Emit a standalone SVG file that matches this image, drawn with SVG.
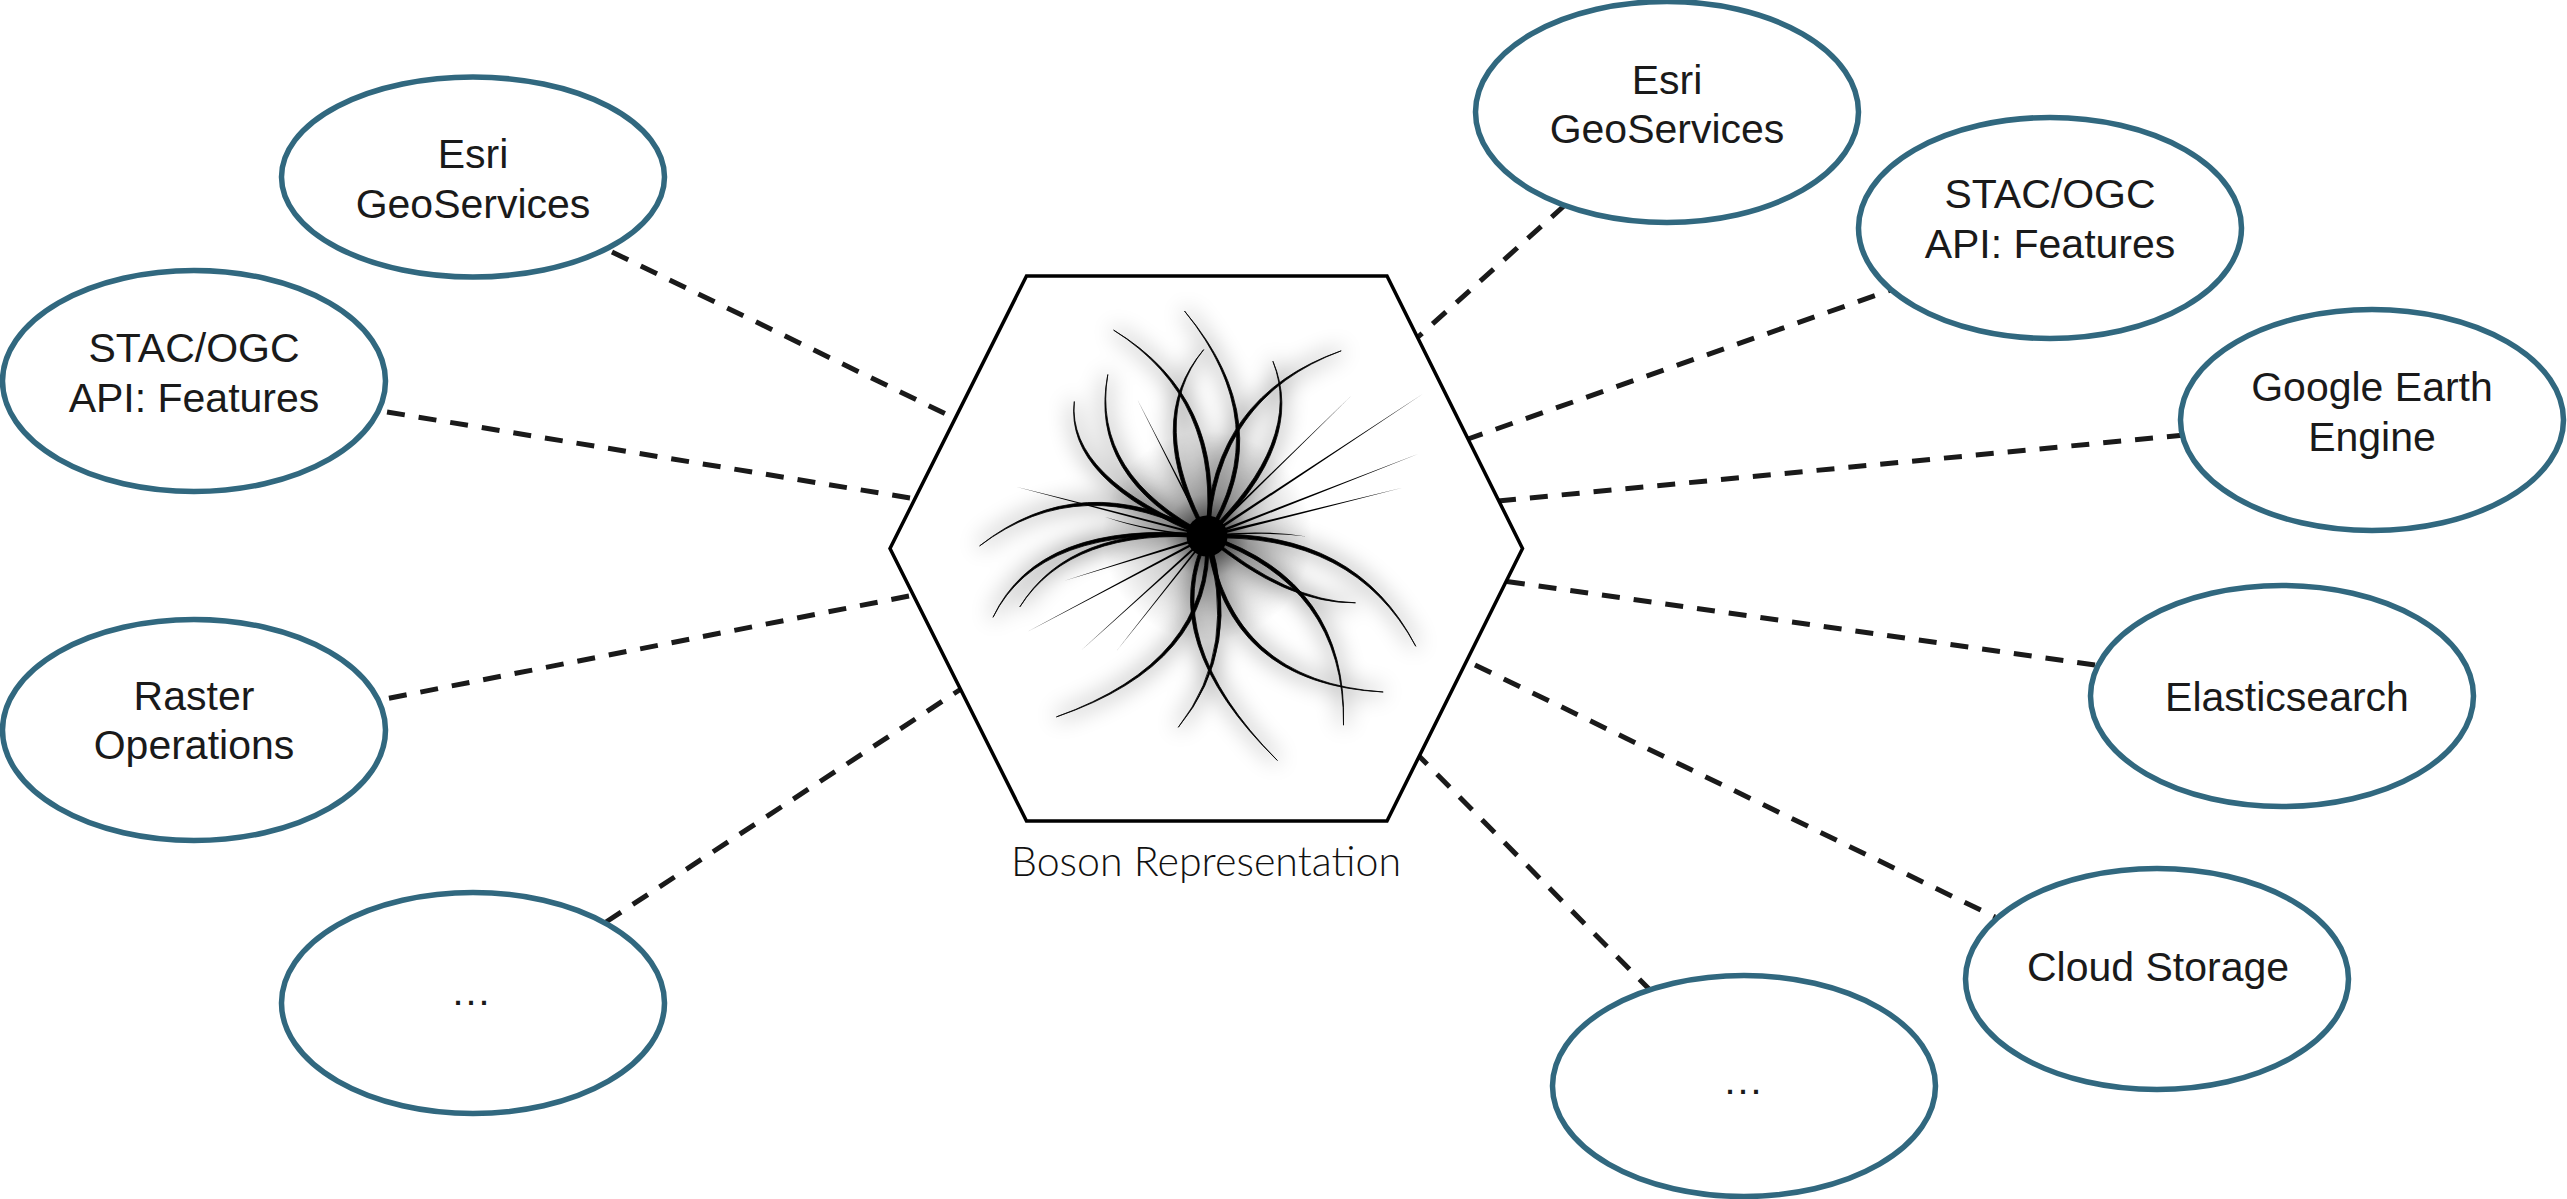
<svg xmlns="http://www.w3.org/2000/svg" width="2567" height="1199" viewBox="0 0 2567 1199">
<style>
text{font-family:"Liberation Sans",Arial,sans-serif;font-size:41px;fill:#1a1a1a;text-anchor:middle}
.n{fill:#fff;stroke:#31687f;stroke-width:5.5}
.c{stroke:#1a1a1a;stroke-width:5;stroke-dasharray:18 14;fill:none}
.hex{fill:#fff;stroke:#000;stroke-width:3.5;stroke-linejoin:miter}
text.cap{font-family:Lato,"Open Sans",sans-serif;font-weight:300;font-size:41px;fill:#111}
</style>
<defs>
<filter id="blur" x="-30%" y="-30%" width="160%" height="160%"><feGaussianBlur stdDeviation="11"/></filter>
<radialGradient id="glow"><stop offset="0" stop-color="#000" stop-opacity=".7"/><stop offset=".4" stop-color="#000" stop-opacity=".22"/><stop offset="1" stop-color="#000" stop-opacity="0"/></radialGradient>
<g id="curved">
<path d="M1209.3,536.1Q1280.7,424.8 1184.5,311Q1276.7,425.2 1205.3,536.5Z"/>
<path d="M1209.1,535.5Q1226.5,398.2 1113.6,330.1Q1222.9,399.8 1205.5,537.1Z"/>
<path d="M1209.3,536.3Q1146,422 1203.7,349.6Q1142,422 1205.3,536.3Z"/>
<path d="M1209,535.3Q1091.1,475 1107.8,374.5Q1087.7,477 1205.6,537.3Z"/>
<path d="M1208.7,534.9Q1067.2,478.1 1074.3,401.5Q1064.4,480.9 1205.9,537.7Z"/>
<path d="M1209.2,537Q1307.4,441.7 1272.9,361.2Q1303.6,440.3 1205.4,535.6Z"/>
<path d="M1208.9,537.5Q1215.1,398.2 1341.2,350.8Q1211.9,395.8 1205.7,535.1Z"/>
<path d="M1206.4,538.1Q1354.1,532.8 1415.8,646.3Q1355.9,529.2 1208.2,534.5Z"/>
<path d="M1206.7,537.7Q1286.2,604.2 1355.5,602.8Q1287.4,601.4 1207.9,534.9Z"/>
<path d="M1205.7,537.5Q1345,584.2 1343.5,725.2Q1348.2,581.8 1208.9,535.1Z"/>
<path d="M1206,537.8Q1226.7,684.5 1383.2,692Q1229.3,681.5 1208.6,534.8Z"/>
<path d="M1205.4,536.9Q1154.5,640.6 1277.4,760.5Q1158.3,639.4 1209.2,535.7Z"/>
<path d="M1205.3,536Q1239.7,648.1 1178.3,727.3Q1243.7,648.7 1209.3,536.6Z"/>
<path d="M1205.8,535Q1211.5,660.7 1056.4,716.9Q1214.5,663.3 1208.8,537.6Z"/>
<path d="M1206.6,534.4Q1038.8,519.1 993,617.3Q1040.2,522.9 1208,538.2Z"/>
<path d="M1206.8,534.9Q1070.2,524.6 1019.8,606.9Q1071.2,527.4 1207.8,537.7Z"/>
<path d="M1207.2,534.3Q1081.8,465 979.6,545.9Q1082,469 1207.4,538.3Z"/>
</g>
<g id="thin">
<path d="M1207.5,535.3Q1111.3,510 1015.3,486.6Q1110.7,512 1207,537.3Z"/>
<path d="M1207.3,535.5Q1150,531 1104.6,516.8Q1150,533 1207.3,537.1Z"/>
<path d="M1207.3,535.5Q1260,529 1306.4,536.4Q1260,531 1207.3,537.1Z"/>
<path d="M1208.4,535.8L1136.8,398.6L1206.2,536.8Z"/>
<path d="M1208.1,537.2L1351,396L1206.5,535.4Z"/>
<path d="M1208.1,537.5L1423.4,393.6L1206.5,535.1Z"/>
<path d="M1207.8,537.7L1419.3,453.4L1206.8,534.9Z"/>
<path d="M1207.7,537.8L1402.4,487.8L1206.9,534.8Z"/>
<path d="M1206.5,535.4L1081,650.5L1208.1,537.2Z"/>
<path d="M1206.5,535.7L1115.3,652.6L1208.1,536.9Z"/>
<path d="M1206.7,535.2L1026,632.6L1207.9,537.4Z"/>
<path d="M1206.9,534.9L1064.5,580.8L1207.7,537.7Z"/>
</g>
</defs>
<rect width="2567" height="1199" fill="#fff"/>
<g id="connectors">
<line class="c" x1="612" y1="252" x2="952" y2="417"/>
<line class="c" x1="910" y1="498" x2="375" y2="410"/>
<line class="c" x1="909" y1="596" x2="375" y2="701"/>
<line class="c" x1="606" y1="922" x2="961" y2="689"/>
<line class="c" x1="1565" y1="205" x2="1418" y2="337"/>
<line class="c" x1="1905" y1="285" x2="1468" y2="439"/>
<line class="c" x1="1498" y1="501" x2="2195" y2="434"/>
<line class="c" x1="2095" y1="665" x2="1504" y2="581"/>
<line class="c" x1="1475" y1="665" x2="1995" y2="917"/>
<line class="c" x1="1652" y1="992" x2="1418" y2="755"/>
</g>
<g id="boson">
<polygon class="hex" points="1026.5,276 1387,276 1522.5,548.5 1387,821 1026.5,821 890,548.5"/>
<g id="starburst">
<circle cx="1207" cy="536" r="105" fill="url(#glow)"/>
<use href="#curved" fill="#000" stroke="#000" stroke-width="4" filter="url(#blur)" opacity=".5"/>
<use href="#curved" fill="#000" stroke="#000" stroke-width=".8"/>
<use href="#thin" fill="#000"/>
<circle cx="1207" cy="536" r="20.5" fill="#000"/>
</g>
<text class="cap" x="1206" y="876" textLength="390" lengthAdjust="spacingAndGlyphs">Boson Representation</text>
</g>
<g id="esri-left"><ellipse class="n" cx="473" cy="177" rx="191.5" ry="100"/><text x="473" y="168">Esri</text><text x="473" y="218">GeoServices</text></g>
<g id="stac-left"><ellipse class="n" cx="194" cy="381" rx="191.5" ry="110.5"/><text x="194" y="362">STAC/OGC</text><text x="194" y="412">API: Features</text></g>
<g id="raster"><ellipse class="n" cx="194" cy="730" rx="191.5" ry="110.5"/><text x="194" y="710">Raster</text><text x="194" y="759">Operations</text></g>
<g id="more-left"><ellipse class="n" cx="473" cy="1003" rx="191.5" ry="110.5"/><text x="471" y="1005">…</text></g>
<g id="esri-right"><ellipse class="n" cx="1667" cy="112" rx="191.5" ry="110.5"/><text x="1667" y="94">Esri</text><text x="1667" y="143">GeoServices</text></g>
<g id="stac-right"><ellipse class="n" cx="2050" cy="228" rx="191.5" ry="110.5"/><text x="2050" y="208">STAC/OGC</text><text x="2050" y="258">API: Features</text></g>
<g id="gee"><ellipse class="n" cx="2372" cy="420" rx="191.5" ry="110.5"/><text x="2372" y="401">Google Earth</text><text x="2372" y="451">Engine</text></g>
<g id="elastic"><ellipse class="n" cx="2282" cy="696" rx="191.5" ry="110.5"/><text x="2287" y="711">Elasticsearch</text></g>
<g id="cloud"><ellipse class="n" cx="2157" cy="979" rx="191.5" ry="110.5"/><text x="2158" y="981">Cloud Storage</text></g>
<g id="more-right"><ellipse class="n" cx="1744" cy="1086" rx="191.5" ry="110.5"/><text x="1743" y="1094">…</text></g>
</svg>
